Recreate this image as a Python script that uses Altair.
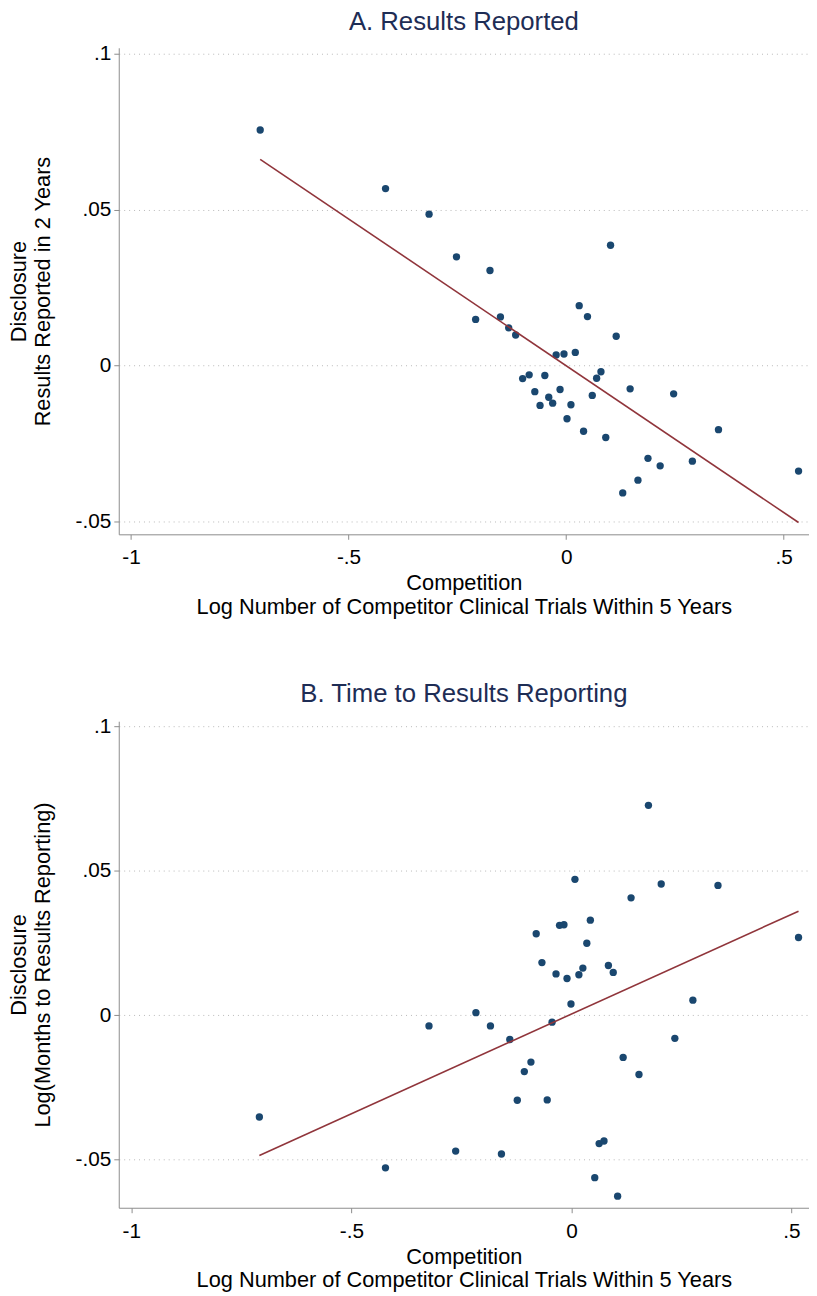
import altair as alt
import pandas as pd

# ---------------- Panel A: Results Reported ----------------
a_x = [-0.703, -0.415, -0.315, -0.252, -0.175, 0.102, -0.208, -0.151, -0.132, -0.116,
       0.030, 0.049, 0.115, -0.023, -0.005, 0.021, -0.100, -0.085, -0.049, 0.080,
       0.070, -0.072, -0.014, -0.040, -0.031, -0.060, 0.011, 0.060, 0.147, 0.247,
       0.002, 0.040, 0.091, 0.350, 0.188, 0.216, 0.290, 0.165, 0.130, 0.534]
a_y = [0.0756, 0.0568, 0.0486, 0.0349, 0.0305, 0.0386, 0.0148, 0.0156, 0.0121, 0.0098,
       0.0192, 0.0157, 0.0094, 0.0034, 0.0037, 0.0042, -0.0042, -0.0030, -0.0032, -0.0020,
       -0.0041, -0.0084, -0.0077, -0.0102, -0.0121, -0.0128, -0.0126, -0.0096, -0.0075, -0.0091,
       -0.0171, -0.0211, -0.0231, -0.0206, -0.0298, -0.0322, -0.0307, -0.0368, -0.0409, -0.0339]
a_fit_x = [-0.703, 0.534]
a_fit_y = [0.0662, -0.0504]

# ---------------- Panel B: Time to Results Reporting ----------------
b_x = [-0.709, -0.4225, -0.3236, -0.263, 0.175, 0.008, 0.204, 0.333, 0.1355, 0.043,
       -0.027, -0.017, -0.080, 0.035, 0.516, -0.067, -0.035, -0.010, 0.017, 0.026,
       0.084, 0.095, -0.001, 0.276, -0.217, -0.184, -0.044, -0.140, 0.235, -0.092,
       -0.107, 0.1175, 0.1535, -0.123, -0.055, -0.159, 0.063, 0.074, 0.053, 0.105]
b_y = [-0.0352, -0.0528, -0.0037, -0.0470, 0.0726, 0.0470, 0.0454, 0.0449, 0.0406, 0.0329,
       0.0311, 0.0313, 0.0282, 0.0249, 0.0269, 0.0182, 0.0143, 0.0127, 0.0140, 0.0163,
       0.0172, 0.0148, 0.0039, 0.0052, 0.0009, -0.0037, -0.0024, -0.0084, -0.0080, -0.0162,
       -0.0195, -0.0146, -0.0205, -0.0294, -0.0293, -0.0480, -0.0444, -0.0435, -0.0562, -0.0626]
b_fit_x = [-0.709, 0.516]
b_fit_y = [-0.0485, 0.0360]

# ---------------- Axis ticks / labels ----------------
x_ticks = [-1, -0.5, 0, 0.5]
x_tick_labels = ["-1", "-.5", "0", ".5"]
y_ticks = [-0.05, 0, 0.05, 0.1]
y_tick_labels = ["-.05", "0", ".05", ".1"]

x_title = ["Competition", "Log Number of Competitor Clinical Trials Within 5 Years"]
a_y_title = ["Disclosure", "Results Reported in 2 Years"]
b_y_title = ["Disclosure", "Log(Months to Results Reporting)"]

FONT = "Liberation Sans"
PT_COLOR = "#1a476f"
LINE_COLOR = "#90353b"
TITLE_COLOR = "#1e2d55"
AXIS_GRAY = "#8c8c8c"


def label_expr(vals, labs):
    expr = "''"
    for v, l in zip(vals, labs):
        expr = f"datum.value == {v} ? '{l}' : ({expr})"
    return expr


def panel(title, xs, ys, fx, fy, ytitle, xdom, ydom):
    pts = pd.DataFrame({"x": xs, "y": ys})
    fit = pd.DataFrame({"x": fx, "y": fy})
    xscale = alt.Scale(domain=xdom, nice=False, zero=False)
    yscale = alt.Scale(domain=ydom, nice=False, zero=False)
    xaxis = alt.Axis(
        values=x_ticks, labelExpr=label_expr(x_ticks, x_tick_labels),
        title=x_title, grid=False, domainColor=AXIS_GRAY, tickColor=AXIS_GRAY,
        tickSize=5, labelPadding=8, labelFontSize=21, titleFontSize=22,
        titleFontWeight="normal", titleLineHeight=24, titlePadding=5,
        labelFont=FONT, titleFont=FONT, labelColor="black", titleColor="black",
    )
    yaxis = alt.Axis(
        values=y_ticks, labelExpr=label_expr(y_ticks, y_tick_labels),
        title=ytitle, grid=True, gridColor="#b8b8b8", gridDash=[1, 4], gridWidth=1,
        domainColor=AXIS_GRAY, tickColor=AXIS_GRAY, tickSize=5, labelPadding=3,
        labelFontSize=21, titleFontSize=22, titleFontWeight="normal",
        titleLineHeight=24, titlePadding=18, minExtent=47, maxExtent=47,
        labelFont=FONT, titleFont=FONT, labelColor="black", titleColor="black",
    )
    scatter = alt.Chart(pts).mark_circle(size=55, opacity=1, color=PT_COLOR).encode(
        x=alt.X("x:Q", scale=xscale, axis=xaxis),
        y=alt.Y("y:Q", scale=yscale, axis=yaxis),
    )
    line = alt.Chart(fit).mark_line(color=LINE_COLOR, strokeWidth=1.6).encode(
        x=alt.X("x:Q", scale=xscale),
        y=alt.Y("y:Q", scale=yscale),
    )
    return alt.layer(scatter, line).properties(
        width=698, height=492,
        title=alt.TitleParams(title, fontSize=26, font=FONT, fontWeight="normal",
                              color=TITLE_COLOR, anchor="middle", offset=8),
    )


pa = panel("A. Results Reported", a_x, a_y, a_fit_x, a_fit_y, a_y_title,
           [-1.028, 0.558], [-0.0542, 0.102])
pb = panel("B. Time to Results Reporting", b_x, b_y, b_fit_x, b_fit_y, b_y_title,
           [-1.0285, 0.5398], [-0.0666, 0.1017])

chart = alt.vconcat(pa, pb, spacing=64).properties(
    padding={"left": 0, "top": -6, "right": 0, "bottom": 0},
    background="white",
).configure_view(stroke="transparent", strokeWidth=0)

chart.save("out.html", embed_options={"renderer": "svg", "actions": False})
